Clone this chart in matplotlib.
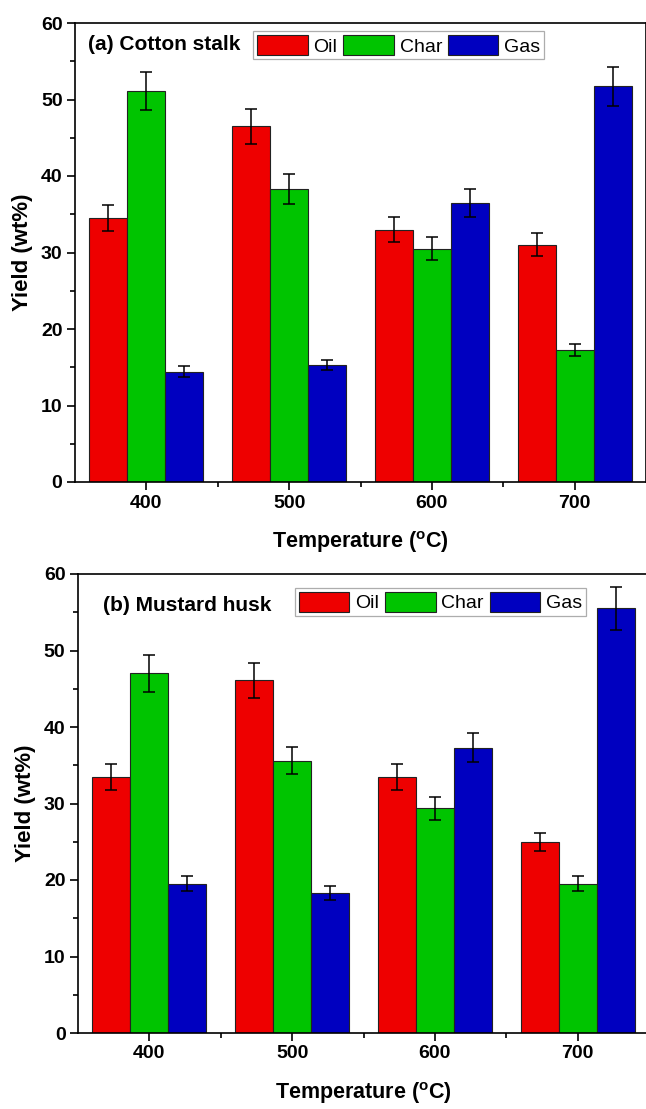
import matplotlib
matplotlib.use("Agg")
import matplotlib.pyplot as plt
from matplotlib.ticker import MultipleLocator, FixedLocator
import numpy as np

plt.rcParams['font.family'] = ['Liberation Sans', 'DejaVu Sans']

temperatures = [400, 500, 600, 700]
products = ["Oil", "Char", "Gas"]
colors = ["#EE0000", "#00C400", "#0000C0"]

# (a) Cotton stalk yields (wt%) and errors
cotton_oil = [34.5, 46.5, 33.0, 31.0]
cotton_char = [51.1, 38.3, 30.5, 17.3]
cotton_gas = [14.4, 15.3, 36.5, 51.7]
cotton_oil_err = [1.7, 2.3, 1.6, 1.5]
cotton_char_err = [2.5, 1.9, 1.5, 0.8]
cotton_gas_err = [0.7, 0.7, 1.8, 2.6]

# (b) Mustard husk yields (wt%) and errors
mustard_oil = [33.5, 46.1, 33.4, 25.0]
mustard_char = [47.0, 35.6, 29.4, 19.5]
mustard_gas = [19.5, 18.3, 37.3, 55.5]
mustard_oil_err = [1.7, 2.3, 1.7, 1.2]
mustard_char_err = [2.4, 1.8, 1.5, 1.0]
mustard_gas_err = [1.0, 0.9, 1.9, 2.8]

W, H = 646, 1109
fig = plt.figure(figsize=(W / 100, H / 100), dpi=100)


def px_axes(left, top, right, bottom):
    return fig.add_axes([left / W, 1 - bottom / H, (right - left) / W, (bottom - top) / H])


def draw_panel(ax, series, errors, title, leg_anchor, title_pos):
    bw = 80 / 3
    x = np.array(temperatures, dtype=float)
    handles = []
    for i, (vals, errs) in enumerate(zip(series, errors)):
        h = ax.bar(x + (i - 1) * bw, vals, width=bw, color=colors[i],
                   edgecolor="#222222", linewidth=0.8, label=products[i], zorder=2)
        ax.errorbar(x + (i - 1) * bw, vals, yerr=errs, fmt="none", ecolor="black",
                    elinewidth=1.1, capsize=4.3, capthick=1.1, zorder=3)
        handles.append(h)
    ax.set_xlim(350, 750)
    ax.set_ylim(0, 60)
    ax.xaxis.set_major_locator(FixedLocator(temperatures))
    ax.xaxis.set_minor_locator(FixedLocator([450, 550, 650]))
    ax.yaxis.set_major_locator(MultipleLocator(10))
    ax.yaxis.set_minor_locator(MultipleLocator(5))
    ax.tick_params(which="both", direction="out", top=False, right=False, width=1.2)
    ax.tick_params(which="major", length=6, labelsize=14, pad=3)
    ax.tick_params(which="minor", length=3.5)
    for lbl in ax.get_xticklabels() + ax.get_yticklabels():
        lbl.set_fontweight("bold")
    for s in ax.spines.values():
        s.set_linewidth(1.2)
    ax.set_xlabel("Temperature ($\\mathregular{^{o}}$C)", fontsize=15.5, fontweight="bold", labelpad=13)
    ax.set_ylabel("Yield (wt%)", fontsize=16, fontweight="bold", labelpad=6)
    ax.text(title_pos[0], title_pos[1], title, transform=ax.transAxes, fontsize=15,
            fontweight="bold", ha="left", va="center")
    leg = ax.legend(handles=handles, loc="upper left", bbox_to_anchor=leg_anchor, ncol=3,
                    fontsize=14, frameon=True, fancybox=False, edgecolor="#999999",
                    handlelength=2.6, handleheight=1.25, handletextpad=0.3,
                    columnspacing=0.3, borderpad=0.2, borderaxespad=0)
    leg.get_frame().set_linewidth(0.9)


ax1 = px_axes(75, 23, 646, 482)
draw_panel(ax1, [cotton_oil, cotton_char, cotton_gas],
           [cotton_oil_err, cotton_char_err, cotton_gas_err],
           "(a) Cotton stalk", (0.312, 0.983), (0.023, 0.954))

ax2 = px_axes(78, 574, 649, 1033)
draw_panel(ax2, [mustard_oil, mustard_char, mustard_gas],
           [mustard_oil_err, mustard_char_err, mustard_gas_err],
           "(b) Mustard husk", (0.380, 0.970), (0.044, 0.932))

fig.savefig("out.png", dpi=100)
